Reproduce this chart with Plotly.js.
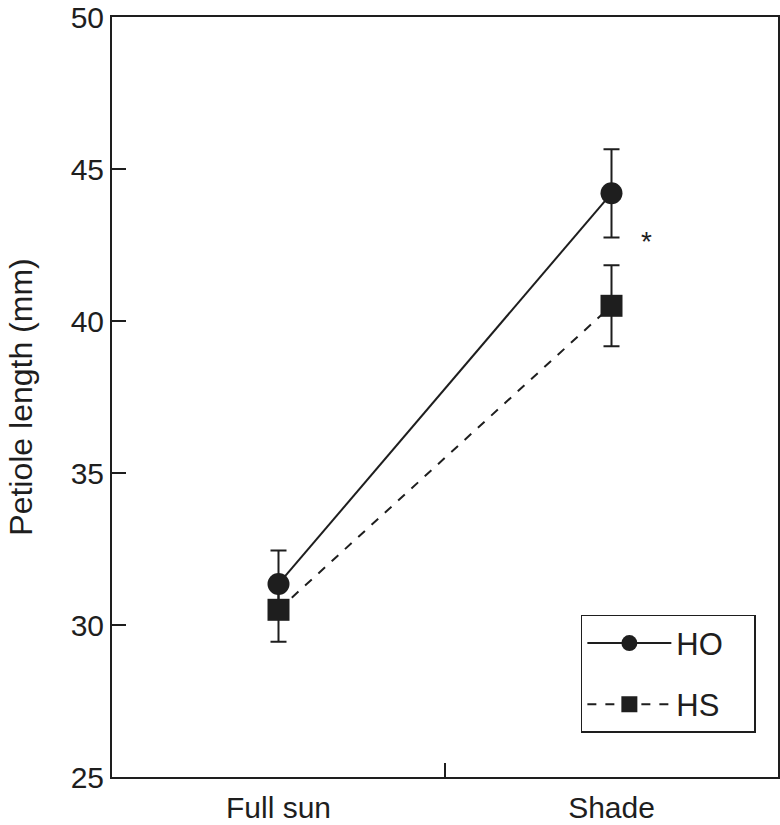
<!DOCTYPE html>
<html>
<head>
<meta charset="utf-8">
<script src="https://cdn.plot.ly/plotly-3.0.1.min.js"></script>
<style>
  body { margin: 0; background: #fff; }
  #chart { width: 780px; height: 825px; }
</style>
</head>
<body>
<div id="chart"></div>
<script>
// 광량 조건별 잎자루 길이 (HO / HS)
const conditions = ['Full sun', 'Shade'];
const conditionPos = [0, 1];
const hoMean = [31.35, 44.2];
const hoErr = [1.1, 1.45];
const hsMean = [30.5, 40.5];
const hsErr = [1.05, 1.33];
const ink = '#1e1e1e';
const pad = '\u00a0\u00a0\u00a0'; // 범례 오른쪽 여백

const traces = [
    {
        x: conditionPos, y: hoMean, name: 'HO' + pad, legendgroup: 'ho',
        type: 'scatter', mode: 'lines+markers',
        line: {color: ink, width: 2},
        marker: {symbol: 'circle', size: 22, color: ink},
        error_y: {type: 'data', array: hoErr, visible: true, color: ink, thickness: 2, width: 8}
    },
    {
        x: conditionPos, y: hsMean, name: 'HS' + pad, legendgroup: 'hs',
        type: 'scatter', mode: 'lines+markers',
        line: {color: ink, width: 2, dash: 'dash'},
        marker: {symbol: 'square', size: 22, color: ink},
        error_y: {type: 'data', array: hsErr, visible: true, color: ink, thickness: 2, width: 8}
    }
];

const layout = {
    width: 780, height: 825,
    margin: {l: 112, r: 2, t: 17, b: 48},
    paper_bgcolor: '#fff', plot_bgcolor: '#fff',
    font: {family: 'Liberation Sans, Arial, sans-serif', color: ink, size: 28},
    showlegend: true,
    legend: {
        x: 0.704, xanchor: 'left', y: 0.058, yanchor: 'bottom',
        bordercolor: ink, borderwidth: 1.5, bgcolor: '#fff',
        font: {size: 31}, itemwidth: 84, tracegroupgap: 18,
        traceorder: 'grouped'
    },
    xaxis: {
        range: [-0.5, 1.5], tickvals: conditionPos, ticktext: conditions,
        ticks: '', showgrid: false, zeroline: false,
        showline: true, mirror: true, linecolor: ink, linewidth: 2,
        tickfont: {size: 30}, ticklabelstandoff: 3, ticklabeloverflow: 'allow',
        minor: {tickvals: [0.5], ticks: 'inside', ticklen: 14, tickwidth: 2, tickcolor: ink, showgrid: false}
    },
    yaxis: {
        range: [25, 50], tickvals: [25, 30, 35, 40, 45, 50],
        ticks: 'inside', ticklen: 14, tickwidth: 2, tickcolor: ink,
        showgrid: false, zeroline: false,
        showline: true, mirror: true, linecolor: ink, linewidth: 2,
        tickfont: {size: 30}, ticklabeloverflow: 'allow',
        title: {text: 'Petiole length (mm)', font: {size: 32}, standoff: 28}
    },
    annotations: [
        {x: 1.104, y: 42.75, xref: 'x', yref: 'y', text: '*', showarrow: false,
         font: {size: 28, color: ink}, yanchor: 'middle', yshift: -4}
    ]
};

Plotly.newPlot('chart', traces, layout, {displayModeBar: false, staticPlot: true});
</script>
</body>
</html>
